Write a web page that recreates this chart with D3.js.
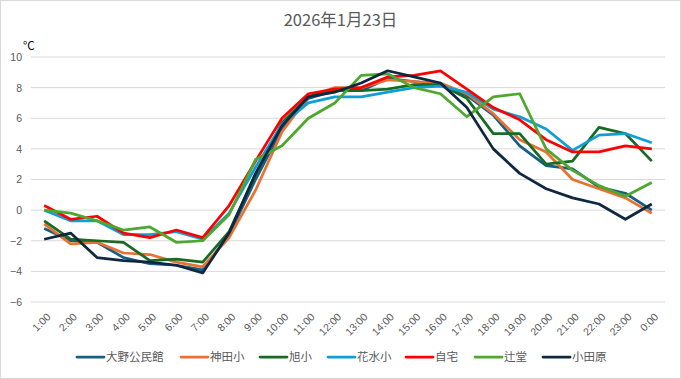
<!DOCTYPE html>
<html>
<head>
<meta charset="utf-8">
<script src="https://cdn.jsdelivr.net/npm/d3@7"></script>
<style>
  body { margin: 0; background: #fff; }
  .chart { position: absolute; left: 0; top: 0; width: 681px; height: 379px; }
</style>
</head>
<body>
<div class="chart"></div>
<script>
const hours = ['1:00','2:00','3:00','4:00','5:00','6:00','7:00','8:00','9:00','10:00','11:00','12:00',
  '13:00','14:00','15:00','16:00','17:00','18:00','19:00','20:00','21:00','22:00','23:00','0:00'];

const yTicks = [-6, -4, -2, 0, 2, 4, 6, 8, 10];

const seriesNames = ['大野公民館', '神田小', '旭小', '花水小', '自宅', '辻堂', '小田原'];
const seriesColors = ['#156082', '#e97132', '#196b24', '#0f9ed5', '#ff0000', '#4ea72e', '#0e2841'];

const oono     = [-1.2, -2.0, -2.1, -3.1, -3.5, -3.6, -3.9, -1.6, 2.0, 5.3, 7.3, 7.8, 7.8, 8.6, 8.4, 8.2, 7.5, 6.2, 4.2, 2.9, 2.7, 1.5, 1.1, 0.0];
const kanda    = [-0.9, -2.2, -2.1, -2.8, -2.9, -3.4, -3.7, -1.8, 1.3, 5.1, 7.4, 8.0, 8.0, 8.5, 8.4, 8.3, 7.6, 6.3, 4.6, 3.8, 2.0, 1.4, 0.8, -0.2];
const asahi    = [-0.7, -1.9, -2.0, -2.1, -3.3, -3.2, -3.4, -1.4, 2.3, 5.7, 7.4, 7.9, 7.8, 7.9, 8.2, 8.2, 7.3, 5.0, 5.0, 3.0, 3.2, 5.4, 5.0, 3.2];
const hanamizu = [0.0, -0.7, -0.7, -1.6, -1.6, -1.4, -1.9, -0.2, 2.8, 5.6, 7.0, 7.4, 7.4, 7.7, 8.0, 8.1, 7.7, 6.6, 6.1, 5.3, 3.9, 4.9, 5.0, 4.4];
const jitaku   = [0.3, -0.6, -0.4, -1.5, -1.8, -1.3, -1.8, 0.3, 3.2, 6.0, 7.6, 7.9, 8.0, 8.7, 8.8, 9.1, 7.9, 6.7, 5.9, 4.6, 3.8, 3.8, 4.2, 4.0];
const tsujido  = [0.0, -0.2, -0.7, -1.3, -1.1, -2.1, -2.0, -0.3, 3.3, 4.2, 6.0, 7.0, 8.8, 8.9, 8.0, 7.6, 6.1, 7.4, 7.6, 4.0, 2.6, 1.6, 0.9, 1.8];
const odawara  = [-1.9, -1.5, -3.1, -3.3, -3.4, -3.6, -4.1, -1.5, 2.4, 5.5, 7.4, 7.7, 8.3, 9.1, 8.7, 8.3, 6.7, 4.0, 2.4, 1.4, 0.8, 0.4, -0.6, 0.4];

const allSeries = [oono, kanda, asahi, hanamizu, jitaku, tsujido, odawara];

const width = 681;
const height = 379;
const margin = { top: 57, right: 16, bottom: 77, left: 31 };

const svg = d3.select('.chart').append('svg').attr('width', width).attr('height', height);

svg.append('rect')
  .attr('x', 0.5).attr('y', 0.5)
  .attr('width', width - 1).attr('height', height - 1)
  .attr('fill', '#fff').attr('stroke', '#d9d9d9');

const xScale = d3.scalePoint().domain(hours).range([margin.left, width - margin.right]).padding(0.5);
const yScale = d3.scaleLinear().domain([-6, 10]).range([height - margin.bottom, margin.top]);

// gridlines
svg.append('g')
  .selectAll('line')
  .data(yTicks)
  .enter().append('line')
  .attr('x1', margin.left).attr('x2', width - margin.right)
  .attr('y1', d => yScale(d)).attr('y2', d => yScale(d))
  .attr('stroke', '#d9d9d9').attr('stroke-width', 1);

// y axis labels
const yAxis = d3.axisLeft(yScale).tickValues(yTicks).tickSize(0).tickPadding(0);
const yG = svg.append('g').attr('transform', `translate(${margin.left - 9},0)`).call(yAxis);
yG.select('.domain').remove();
yG.selectAll('text')
  .attr('fill', '#595959')
  .style('font-family', 'Liberation Sans, Arial, sans-serif')
  .style('font-size', '10.5px');

// x axis labels
const xAxis = d3.axisBottom(xScale).tickSize(0).tickPadding(0);
const xG = svg.append('g').attr('transform', `translate(0,${height - margin.bottom + 9})`).call(xAxis);
xG.select('.domain').remove();
xG.selectAll('text')
  .attr('fill', '#595959')
  .style('font-family', 'Liberation Sans, Arial, sans-serif')
  .style('font-size', '10.5px')
  .attr('text-anchor', 'end')
  .attr('dy', '0.35em')
  .attr('transform', 'translate(4,4) rotate(-45)');

// lines
const line = d3.line().x((d, i) => xScale(hours[i])).y(d => yScale(d));

svg.append('g')
  .selectAll('path')
  .data(allSeries)
  .enter().append('path')
  .attr('d', d => line(d))
  .attr('fill', 'none')
  .attr('stroke', (d, i) => seriesColors[i])
  .attr('stroke-width', 2.75)
  .attr('stroke-linejoin', 'round');

// title
svg.append('text')
  .attr('x', width / 2).attr('y', 26)
  .attr('text-anchor', 'middle')
  .attr('fill', '#595959')
  .style('font-family', 'Noto Sans CJK JP, sans-serif')
  .style('font-size', '16.5px')
  .text('2026年1月23日');

svg.append('text')
  .attr('x', 23).attr('y', 50)
  .attr('fill', '#000')
  .style('font-family', 'Noto Sans CJK JP, sans-serif')
  .style('font-size', '11.5px')
  .text('°C');

// legend
const legendX = [77, 181, 260, 328, 406, 475, 543];
const legendY = 357;
const legend = svg.append('g')
  .selectAll('g')
  .data(seriesNames)
  .enter().append('g')
  .attr('transform', (d, i) => `translate(${legendX[i]},${legendY})`);

legend.append('line')
  .attr('x1', 0).attr('x2', 27)
  .attr('y1', 0).attr('y2', 0)
  .attr('stroke', (d, i) => seriesColors[i])
  .attr('stroke-width', 2.75)
  .attr('stroke-linecap', 'round');

legend.append('text')
  .attr('x', 29).attr('y', 0)
  .attr('dy', '0.35em')
  .attr('fill', '#595959')
  .style('font-family', 'Noto Sans CJK JP, sans-serif')
  .style('font-size', '11.5px')
  .text(d => d);
</script>
</body>
</html>
